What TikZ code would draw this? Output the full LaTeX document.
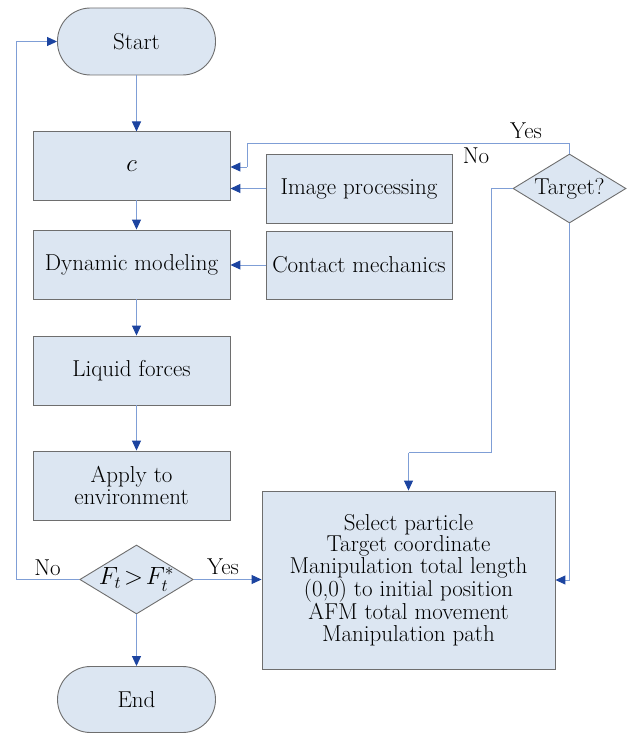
\documentclass[tikz,border=0pt]{standalone}
\usetikzlibrary{shapes.geometric,arrows.meta}
\definecolor{boxfill}{HTML}{DCE6F2}
\definecolor{boxline}{HTML}{6E6E6E}
\definecolor{flowline}{HTML}{7F9ED6}
\definecolor{tipblue}{HTML}{1C44A0}
\tikzset{
  every node/.style={font=\fontsize{23}{21.7}\selectfont},
  procbox/.style={draw=boxline, fill=boxfill, line width=0.9pt, inner sep=0pt, align=center},
  termbox/.style={procbox, rounded corners=33pt},
  decision/.style={draw=boxline, fill=boxfill, line width=0.9pt, diamond, inner sep=0pt, shape aspect=1.65},
  flow/.style={draw=flowline, line width=1pt, -{Triangle[length=10pt,width=9pt,color=tipblue]}},
  wire/.style={draw=flowline, line width=1pt},
  lbl/.style={inner sep=0pt}
}
\begin{document}
\begin{tikzpicture}[x=1pt,y=-1pt]
\useasboundingbox (0,0) rectangle (626,733);

% main column
\node[termbox, minimum width=158pt, minimum height=67pt] (start) at (136.5,41.5) {Start};
\node[procbox, minimum width=197pt, minimum height=68.5pt] (cbox) at (131.5,165.75) {$c$};
\node[procbox, minimum width=197pt, minimum height=69pt] (dyn) at (131.5,264.5) {Dynamic modeling};
\node[procbox, minimum width=197pt, minimum height=69pt] (liq) at (131.5,370.5) {Liquid forces};
\node[procbox, minimum width=197pt, minimum height=69pt] (apply) at (131.5,485.5) {Apply to\\environment};
\node[decision, minimum width=113pt, minimum height=69pt] (test) at (136.5,579.5) {$F_t\!>\!F_t^*$};
\node[termbox, minimum width=158pt, minimum height=66pt] (endn) at (136.5,699.5) {End};

% side inputs
\node[procbox, minimum width=186pt, minimum height=69pt] (img) at (359,188.5) {Image processing};
\node[procbox, minimum width=186pt, minimum height=68pt] (cont) at (359,265) {Contact mechanics};

% target check and result
\node[decision, minimum width=113pt, minimum height=69pt] (target) at (569.5,188.5) {Target?};
\node[procbox, minimum width=293pt, minimum height=178pt] (result) at (408.5,580) {Select particle\\Target coordinate\\Manipulation total length\\(0,0) to initial position\\AFM total movement\\Manipulation path};

% helper points
\coordinate (loopL) at (16,579.5);
\coordinate (yesA) at (569.5,143);
\coordinate (yesB) at (247,143);
\coordinate (yesC) at (247,167);
\coordinate (noA) at (491,188.5);
\coordinate (noB) at (491,452.5);
\coordinate (noC) at (408.5,452.5);

% main flow
\draw[flow] (start.south -| 136.5,0) -- (136.5,131.5);
\draw[flow] (136.5,200) -- (dyn.north -| 136.5,0);
\draw[flow] (136.5,299) -- (liq.north -| 136.5,0);
\draw[flow] (136.5,405) -- (apply.north -| 136.5,0);
\draw[flow] (test.south) -- (endn.north);

% feedback loop
\draw[wire] (test.west) -- (loopL);
\draw[flow] (loopL) -- (16,41.5) -- (start.west);
\node[lbl] at (47.5,568) {No};

% decision to result
\draw[flow] (test.east) -- (result.west |- test.east);
\node[lbl] at (223,567) {Yes};

% side inputs
\draw[flow] (img.west) -- (cbox.east |- img.west);
\draw[flow] (cont.west) -- (dyn.east |- cont.west);

% target branches
\draw[wire] (target.north) -- (yesA) -- (yesB) -- (yesC);
\draw[flow] (yesC) -- (cbox.east |- yesC);
\node[lbl] at (526,131) {Yes};
\node[lbl] at (476,156) {No};
\draw[wire] (target.west) -- (noA) -- (noB) -- (noC);
\draw[flow] (noC) -- (result.north);
\draw[flow] (target.south) -- (569.5,580) -- (result.east);
\end{tikzpicture}
\end{document}
